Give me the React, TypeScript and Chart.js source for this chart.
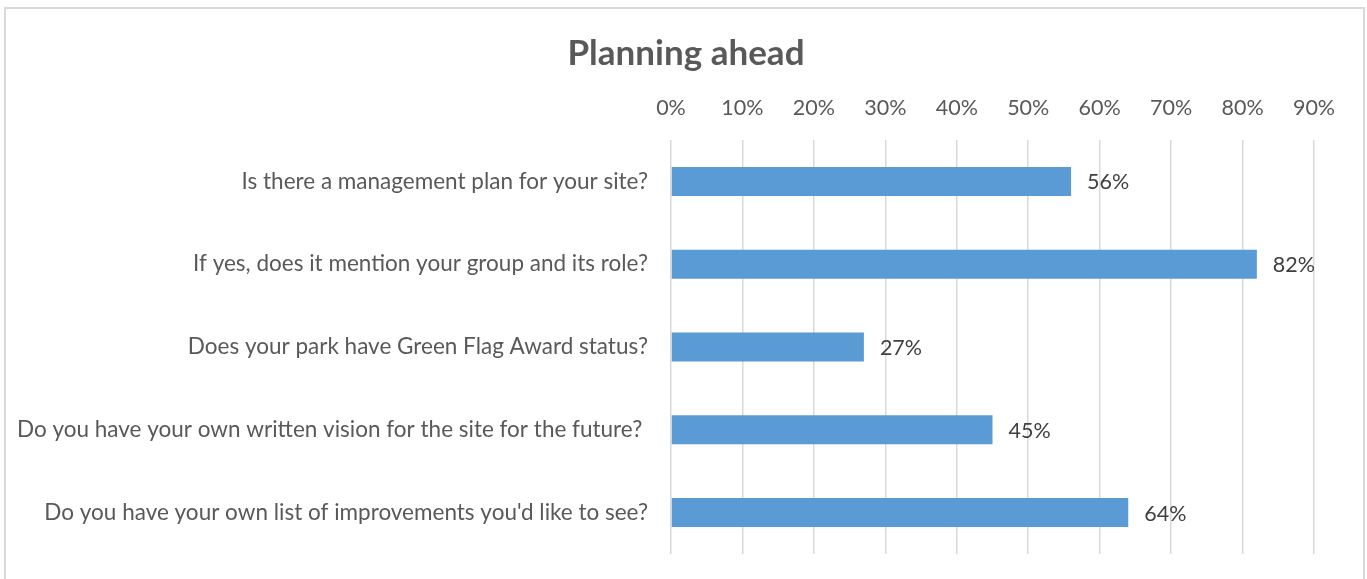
import React, { useEffect, useRef } from "react";
import { Chart, registerables } from "chart.js";

Chart.register(...registerables);

const title = "Planning ahead";
const categories = [
  "Is there a management plan for your site?",
  "If yes, does it mention your group and its role?",
  "Does your park have Green Flag Award status?",
  "Do you have your own written vision for the site for the future? ",
  "Do you have your own list of improvements you'd like to see?",
];
const values = [56, 82, 27, 45, 64];
const axisMin = 0;
const axisMax = 90;
const axisStep = 10;

const FONT = "Lato";

const titlePlugin = {
  id: "customTitle",
  afterDraw(chart: any) {
    const ctx = chart.ctx;
    ctx.save();
    ctx.font = `bold 35px ${FONT}`;
    ctx.fillStyle = "#595959";
    ctx.textAlign = "center";
    ctx.textBaseline = "middle";
    ctx.fillText(title, 686, 54);
    ctx.restore();
  },
};

const dataLabelPlugin = {
  id: "dataLabels",
  afterDatasetsDraw(chart: any) {
    const ctx = chart.ctx;
    const meta = chart.getDatasetMeta(0);
    ctx.save();
    ctx.font = `21.5px ${FONT}`;
    ctx.fillStyle = "#404040";
    ctx.textAlign = "left";
    ctx.textBaseline = "middle";
    meta.data.forEach((bar: any, i: number) => {
      ctx.fillText(`${values[i]}%`, bar.x + 16, bar.y + 1);
    });
    ctx.restore();
  },
};

export default function App() {
  const ref = useRef<HTMLCanvasElement | null>(null);
  useEffect(() => {
    if (!ref.current) return;
    const chart = new Chart(ref.current, {
      type: "bar",
      data: {
        labels: categories,
        datasets: [
          {
            data: values,
            backgroundColor: "#5B9BD5",
            borderWidth: 0,
            barPercentage: 0.35,
            categoryPercentage: 1,
          },
        ],
      },
      options: {
        indexAxis: "y",
        responsive: false,
        animation: false,
        events: [],
        layout: { padding: { left: 0, right: 53, top: 0, bottom: 25 } },
        plugins: {
          legend: { display: false },
          title: { display: false },
          tooltip: { enabled: false },
        },
        scales: {
          x: {
            position: "top",
            min: axisMin,
            max: axisMax,
            border: { display: false },
            grid: { color: "#d9d9d9", lineWidth: 1.5, drawTicks: false },
            ticks: {
              stepSize: axisStep,
              padding: 19,
              color: "#595959",
              font: { family: FONT, size: 21.5 },
              callback: (v: any) => `${v}%`,
            },
            afterFit: (scale: any) => {
              scale.height = 140;
            },
          },
          y: {
            border: { display: false },
            grid: { display: false, drawTicks: false },
            ticks: {
              padding: 23,
              color: "#595959",
              font: { family: FONT, size: 22.5 },
            },
            afterFit: (scale: any) => {
              scale.width = 671;
              scale.paddingTop = 0;
              scale.paddingBottom = 0;
            },
          },
        },
      },
      plugins: [titlePlugin, dataLabelPlugin],
    });
    return () => chart.destroy();
  }, []);

  return (
    <div style={{ position: "fixed", left: 0, top: 0, width: 1367, height: 579, background: "#fff" }}>
      <canvas ref={ref} width={1367} height={579} style={{ width: 1367, height: 579, display: "block" }} />
      <div
        style={{
          position: "absolute",
          left: 4,
          top: 7,
          width: 1361,
          height: 620,
          border: "2px solid #d9d9d9",
          boxSizing: "border-box",
          pointerEvents: "none",
        }}
      />
    </div>
  );
}
